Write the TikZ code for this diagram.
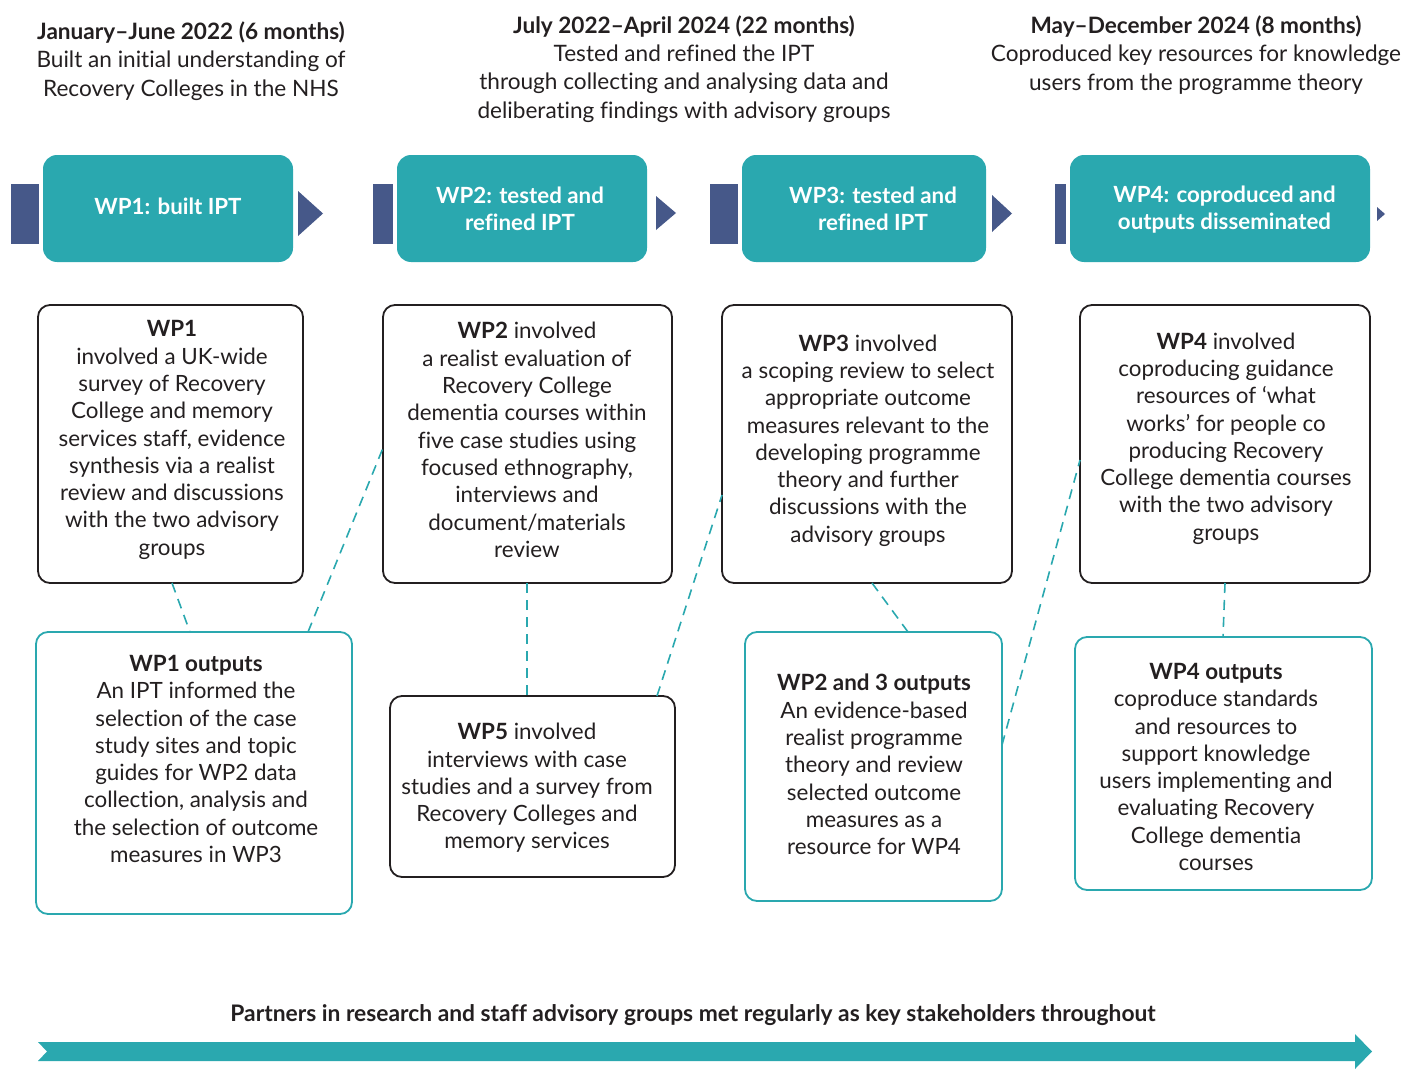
\documentclass[tikz,border=0pt]{standalone}
\usepackage{fontspec}
\setmainfont{Lato}[Ligatures=CommonOff]
\definecolor{teal1}{HTML}{2AA8AF}
\definecolor{navy1}{HTML}{465889}
\definecolor{ink}{HTML}{231F20}
\begin{document}
\begin{tikzpicture}[x=1pt,y=-1pt,
  hdr/.style={fill=teal1, rounded corners=14pt, inner sep=0pt, outer sep=0pt},
  hdrtext/.style={text=white, inner sep=0pt, font=\bfseries\fontsize{22.3}{27}\selectfont, align=center},
  navyrect/.style={fill=navy1, inner sep=0pt, outer sep=0pt},
  blackbox/.style={draw=ink, line width=1.8pt, rounded corners=12pt, inner sep=0pt, outer sep=0pt},
  tealbox/.style={draw=teal1, line width=1.8pt, rounded corners=12pt, inner sep=0pt, outer sep=0pt},
  body/.style={align=center, text=ink, inner sep=0pt, font=\fontsize{22.4}{27.3}\selectfont},
  toptext/.style={align=center, text=ink, inner sep=0pt, font=\fontsize{22.6}{28.3}\selectfont},
  dashconn/.style={draw=teal1, line width=1.6pt, dash pattern=on 10pt off 7pt}
]
\useasboundingbox (0,0) rectangle (1405,1070);

% period headers
\node[toptext] (hd1) at (191,61) {\textbf{January–June 2022 (6 months)}\\Built an initial understanding of\\Recovery Colleges in the NHS};
\node[toptext] (hd2) at (684,69) {\textbf{July 2022–April 2024 (22 months)}\\Tested and refined the IPT\\through collecting and analysing data and\\deliberating findings with advisory groups};
\node[toptext] (hd3) at (1196,55) {\textbf{May–December 2024 (8 months)}\\Coproduced key resources for knowledge\\users from the programme theory};

% navy left bars
\node[navyrect, minimum width=28pt, minimum height=60pt] (n1) at (25,214) {};
\node[navyrect, minimum width=20pt, minimum height=60pt] (n2) at (383,214) {};
\node[navyrect, minimum width=28pt, minimum height=60pt] (n3) at (724,214) {};
\node[navyrect, minimum width=11pt, minimum height=60pt] (n4) at (1060.5,214) {};

% teal header boxes
\node[hdr, minimum width=250pt, minimum height=107pt] (h1) at (168,208.5) {};
\node[hdr, minimum width=250pt, minimum height=107pt] (h2) at (522,208.5) {};
\node[hdr, minimum width=244pt, minimum height=107pt] (h3) at (864,208.5) {};
\node[hdr, minimum width=300pt, minimum height=107pt] (h4) at (1220,208.5) {};
\node[hdrtext] (h1t) at (168,206) {WP1: built IPT};
\node[hdrtext] (h2t) at (520,208.5) {WP2: tested and\\refined IPT};
\node[hdrtext] (h3t) at (873,209) {WP3: tested and\\refined IPT};
\node[hdrtext] (h4t) at (1224.5,210) {WP4: coproduced and\\outputs disseminated};

% triangles
\fill[navy1] (298,191) -- (323,213.5) -- (298,236) -- cycle;
\fill[navy1] (656,196) -- (676,213) -- (656,230) -- cycle;
\fill[navy1] (992,195) -- (1012,213.5) -- (992,232) -- cycle;
\fill[navy1] (1377,207) -- (1385,214) -- (1377,221) -- cycle;

% row 1 boxes
\node[blackbox, minimum width=265pt, minimum height=278pt] (b1) at (170.5,444) {};
\node[blackbox, minimum width=289pt, minimum height=278pt] (b2) at (527.5,444) {};
\node[blackbox, minimum width=290pt, minimum height=278pt] (b3) at (867,444) {};
\node[blackbox, minimum width=290pt, minimum height=278pt] (b4) at (1225,444) {};

% row 2 boxes
\node[tealbox, minimum width=316pt, minimum height=282pt] (o1) at (194,773) {};
\node[blackbox, minimum width=285pt, minimum height=181pt] (w5) at (532.5,786.5) {};
\node[tealbox, minimum width=257pt, minimum height=269pt] (o23) at (873.5,766.5) {};
\node[tealbox, minimum width=297pt, minimum height=253pt] (o4) at (1223.5,763.5) {};

% texts
\node[body] (tb1) at (172,440) {\textbf{WP1}\\involved a UK-wide\\survey of Recovery\\College and memory\\services staff, evidence\\synthesis via a realist\\review and discussions\\with the two advisory\\groups};
\node[body] (tb2) at (527,440) {\textbf{WP2} involved\\a realist evaluation of\\Recovery College\\dementia courses within\\five case studies using\\focused ethnography,\\interviews and\\document/materials\\review};
\node[body] (tb3) at (868,440.5) {\textbf{WP3} involved\\a scoping review to select\\appropriate outcome\\measures relevant to the\\developing programme\\theory and further\\discussions with the\\advisory groups};
\node[body] (tb4) at (1226,438.5) {\textbf{WP4} involved\\coproducing guidance\\resources of ‘what\\works’ for people co\\producing Recovery\\College dementia courses\\with the two advisory\\groups};
\node[body] (to1) at (196,759) {\textbf{WP1 outputs}\\An IPT informed the\\selection of the case\\study sites and topic\\guides for WP2 data\\collection, analysis and\\the selection of outcome\\measures in WP3};
\node[body] (tw5) at (527,788) {\textbf{WP5} involved\\interviews with case\\studies and a survey from\\Recovery Colleges and\\memory services};
\node[body] (to23) at (874,764.5) {\textbf{WP2 and 3 outputs}\\An evidence-based\\realist programme\\theory and review\\selected outcome\\measures as a\\resource for WP4};
\node[body] (to4) at (1216,767) {\textbf{WP4 outputs}\\coproduce standards\\and resources to\\support knowledge\\users implementing and\\evaluating Recovery\\College dementia\\courses};

% dashed connectors
\draw[dashconn] ([xshift=1.5pt]b1.south) -- ([xshift=-4pt]o1.north);
\draw[dashconn] ([xshift=114pt]o1.north) -- ([yshift=-4pt]b2.west);
\draw[dashconn] ([xshift=-0.5pt]b2.south) -- ([xshift=-5.5pt]w5.north);
\draw[dashconn] ([xshift=124.5pt]w5.north) -- ([yshift=-51pt]b3.west);
\draw[dashconn] ([xshift=5pt]b3.south) -- ([xshift=34.5pt]o23.north);
\draw[dashconn] ([yshift=21.5pt]o23.east) -- ([yshift=-16pt]b4.west);
\draw[dashconn] (b4.south) -- ([xshift=-0.5pt]o4.north);

% bottom arrow
\node[font=\bfseries\fontsize{22.8}{26}\selectfont, text=ink, inner sep=0pt] (bt) at (693,1015) {Partners in research and staff advisory groups met regularly as key stakeholders throughout};
\fill[teal1] (38,1042) -- (1355,1042) -- (1355,1034) -- (1372,1051.5) -- (1355,1069) -- (1355,1061) -- (38,1061) -- (47,1051.5) -- cycle;
\end{tikzpicture}
\end{document}
